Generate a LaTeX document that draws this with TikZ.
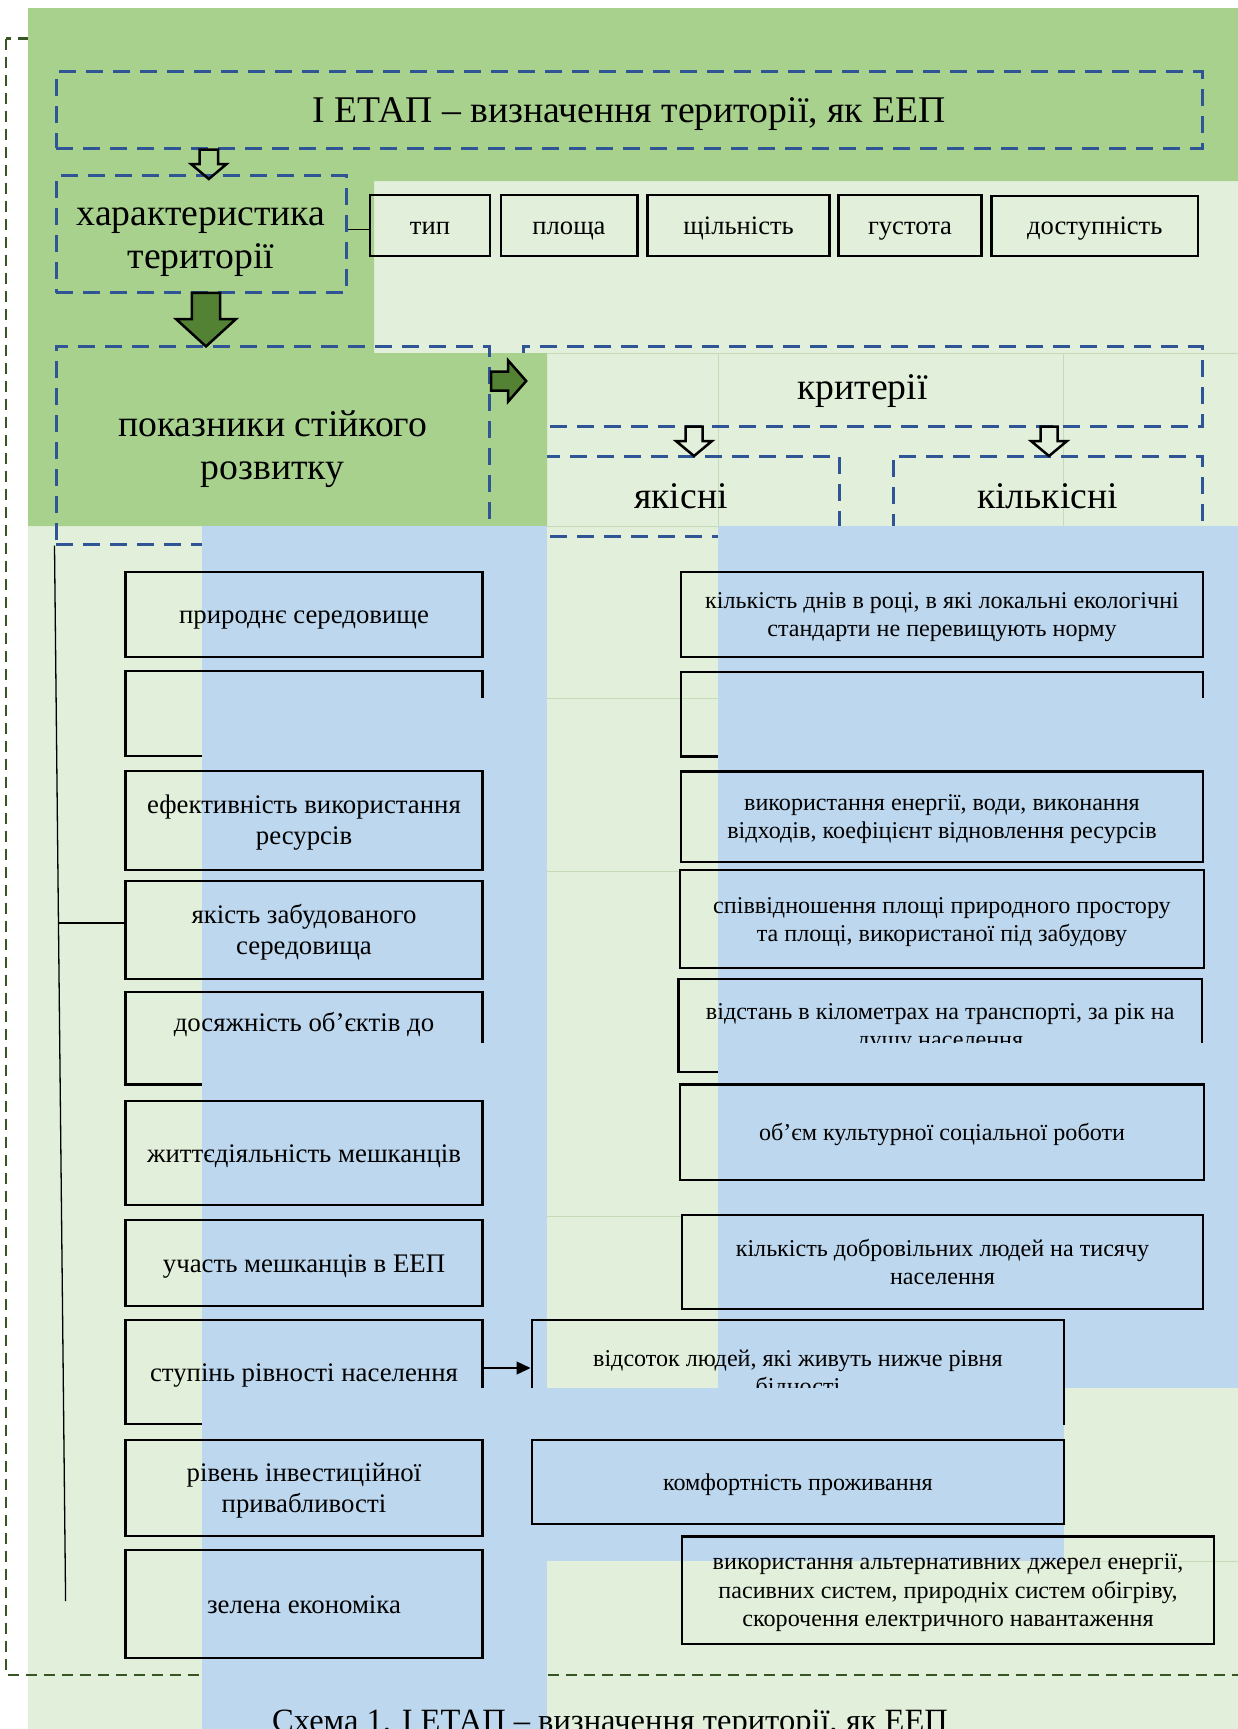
\documentclass[tikz,border=0pt]{standalone}
\usepackage{fontspec}
\setmainfont{Liberation Serif}
\usetikzlibrary{calc,arrows.meta}
\definecolor{dgreen}{HTML}{A9D18E}
\definecolor{lgreen}{HTML}{E2EFDA}
\definecolor{lblue}{HTML}{BDD7EE}
\definecolor{dashblue}{HTML}{2F5597}
\definecolor{framegreen}{HTML}{375623}
\definecolor{arrgreen}{HTML}{548235}
\definecolor{gridc}{HTML}{C5DBB5}
\newcommand\sr{\rule[-0.216em]{0pt}{1.107em}}
\tikzset{
  dbox/.style={draw=dashblue, line width=3pt, dash pattern=on 17pt off 10pt, inner sep=0pt, align=center, font=\fontsize{37.7}{43}\selectfont, execute at begin node=\sr},
  sbox/.style={draw=black, line width=2.5pt, inner sep=0pt, align=center, font=\fontsize{26.6}{31}\selectfont, execute at begin node=\sr},
  lbox/.style={draw=black, line width=2.5pt, inner sep=0pt, align=center, minimum width=357, font=\fontsize{26.8}{31}\selectfont, execute at begin node=\sr},
  rbox/.style={draw=black, line width=2.5pt, inner sep=0pt, align=center, font=\fontsize{24.1}{28.2}\selectfont, execute at begin node=\sr},
  hollow/.style={draw=black, line width=2.5pt, line join=miter},
  greenarr/.style={draw=black, fill=arrgreen, line width=2.5pt, line join=miter},
  gridline/.style={draw=gridc, line width=1pt},
  cover/.style={fill=lblue},
  conn/.style={draw=black, line width=1.3pt},
}
\begin{document}
\begin{tikzpicture}[x=1pt,y=-1pt]
\clip (0,0) rectangle (1238,1729);
\fill[white] (0,0) rectangle (1238,1729);
\fill[lgreen] (28,8) rectangle (1238,1729);
% faint table lines
\draw[gridline] (547,353) -- (1238,353);
\draw[gridline] (718,353) -- (718,526);
\draw[gridline] (1063,353) -- (1063,526);
\draw[gridline] (547,526) -- (718,526);
\draw[gridline] (547,698) -- (718,698);
\draw[gridline] (547,871) -- (680,871);
\draw[gridline] (547,1216) -- (682,1216);
\draw[gridline] (1064,1561) -- (1238,1561);
% outer frame
\draw[framegreen, line width=2.6pt, dash pattern=on 11pt off 7pt] (6,38.6) rectangle (1270,1675);
% criteria boxes
\node[dbox, minimum width=679, minimum height=80.3] (krit) at (862.5,386.5) {критерії};
\node[dbox, minimum width=316, minimum height=80] (yak) at (681,496) {якісні};
\node[dbox, minimum width=309, minimum height=80] (kil) at (1047.5,496) {кількісні};
% dark green area
\fill[dgreen] (28,8) -- (1238,8) -- (1238,181) -- (374,181) -- (374,353) -- (547,353) -- (547,526) -- (28,526) -- cycle;
% top part
\node[dbox, minimum width=1146, minimum height=76.6] (etap) at (629,109.7) {І ЕТАП – визначення території, як ЕЕП};
\node[dbox, minimum width=290, minimum height=117] (har) at (201,234.25) {\sr характеристика\\\sr території};
\node[dbox, minimum width=433.5, minimum height=198] (pok) at (272.75,445) {\sr показники стійкого\\\sr розвитку};
\node[sbox, minimum width=120, minimum height=61] (typ) at (430,225.5) {тип};
\node[sbox, minimum width=136.5, minimum height=61] (plo) at (569,225.5) {площа};
\node[sbox, minimum width=182, minimum height=61] (shch) at (738.6,225.5) {щільність};
\node[sbox, minimum width=143, minimum height=61] (gus) at (910,225.5) {густота};
\node[sbox, minimum width=206.5, minimum height=60] (dos) at (1094.8,226) {доступність};
\draw[conn] (har.east |- 0,229.6) -- (typ.west |- 0,229.6);
% hollow arrow etap -> har
\draw[hollow] (etap.south -| 208.8,0) ++(-9.25,0) -- ++(18.5,0) -- ++(0,14.5) -- ++(8.55,0) -- ++(-17.8,15) -- ++(-17.8,-15) -- ++(8.55,0) -- cycle;
% big green arrow har -> pok
\draw[greenarr] (206,292.8) ++(-14.2,0) -- ++(28.4,0) -- ++(0,26.2) -- ++(15.8,0) -- ++(-30,27.4) -- ++(-30,-27.4) -- ++(15.8,0) -- cycle;
% right arrow pok -> krit
\draw[greenarr] (pok.east |- 0,381) ++(0,-9.5) -- ++(17.2,0) -- ++(0,-11) -- ++(18,20.5) -- ++(-18,20.5) -- ++(0,-11) -- ++(-17.2,0) -- cycle;
% hollow arrows krit -> yak / kil
\draw[hollow] (694,426.6) ++(-8.5,0) -- ++(17,0) -- ++(0,14.4) -- ++(9.5,0) -- ++(-18,15) -- ++(-18,-15) -- ++(9.5,0) -- cycle;
\draw[hollow] (1049,426.6) ++(-8.5,0) -- ++(17,0) -- ++(0,14.4) -- ++(9.5,0) -- ++(-18,15) -- ++(-18,-15) -- ++(9.5,0) -- cycle;
% blue areas
\fill[lblue] (202,526) rectangle (547,1729);
\fill[lblue] (718,526) rectangle (1238,1388);
\fill[lblue] (547,1388) rectangle (1064,1561);
% left column
\node[lbox, minimum height=85.3] (a) at (304,614.4) {природнє середовище};
\node[lbox, minimum height=85] (b) at (304,713.5) {};
\node[lbox, minimum height=99.3] (c) at (304,820.4) {\sr ефективність використання\\\sr ресурсів};
\node[lbox, minimum height=98] (d) at (304,930) {\sr якість забудованого\\\sr середовища};
\node[lbox, minimum height=92.5] (e) at (304,1038.3) {\sr досяжність об’єктів до\\\sr};
\node[lbox, minimum height=104] (f) at (304,1153) {життєдіяльність мешканців};
\node[lbox, minimum height=86] (g) at (304,1263) {участь мешканців в ЕЕП};
\node[lbox, minimum height=104] (h) at (304,1372) {ступінь рівності населення};
\node[lbox, minimum height=96] (i) at (304,1488) {\sr рівень інвестиційної\\\sr привабливості};
\node[lbox, minimum height=108] (j) at (304,1604) {зелена економіка};
% right column
\node[rbox, minimum width=522, minimum height=85] (A) at (942,614.5) {\sr кількість днів в році, в які локальні екологічні\\\sr стандарти не перевищують норму};
\node[rbox, minimum width=522, minimum height=84.5] (B) at (942,714) {};
\node[rbox, minimum width=522, minimum height=90.6] (C) at (942,816.7) {\sr використання енергії, води, виконання\\\sr відходів, коефіцієнт відновлення ресурсів};
\node[rbox, minimum width=524, minimum height=98] (D) at (942,919) {\sr співвідношення площі природного простору\\\sr та площі, використаної під забудову};
\node[rbox, minimum width=523.5, minimum height=93] (E) at (940.2,1025.5) {\sr відстань в кілометрах на транспорті, за рік на\\\sr душу населення};
\node[rbox, minimum width=524, minimum height=95.5] (F) at (942,1132) {об’єм культурної соціальної роботи};
\node[rbox, minimum width=521, minimum height=93.6] (G) at (942.5,1262) {\sr кількість добровільних людей на тисячу\\\sr населення};
\node[rbox, minimum width=532.3, minimum height=104] (H) at (797.9,1372) {\sr відсоток людей, які живуть нижче рівня\\\sr бідності};
\node[rbox, minimum width=532.3, minimum height=84] (I) at (797.9,1482) {комфортність проживання};
\node[rbox, minimum width=532, minimum height=107.5] (J) at (948,1590) {\sr використання альтернативних джерел енергії,\\\sr пасивних систем, природніх систем обігріву,\\\sr скорочення електричного навантаження};
% connectors
\coordinate (vb) at (65.6,1601);
\draw[conn] (pok.south west) -- (vb);
\coordinate (br) at ($(pok.south west)!0.3576!(vb)$);
\draw[conn] (br) -- (br -| d.west);
\draw[conn, -{Triangle[length=14pt,width=13pt]}] (h.east |- 0,1368) -- (H.west |- 0,1368);
% blue overlaps hiding parts of boxes
\fill[cover] (202,698) rectangle (547,762);
\fill[cover] (202,1043) rectangle (547,1090);
\fill[cover] (202,1388) rectangle (547,1430);
\fill[cover] (718,698) rectangle (1238,763);
\fill[cover] (718,1043) rectangle (1238,1077);
\fill[cover] (547,1388) rectangle (1062.5,1430);
% caption
\node[anchor=base, inner sep=0pt, font=\fontsize{32.5}{38}\selectfont] (cap) at (610,1731) {Схема 1. І ЕТАП – визначення території, як ЕЕП};
\end{tikzpicture}
\end{document}
